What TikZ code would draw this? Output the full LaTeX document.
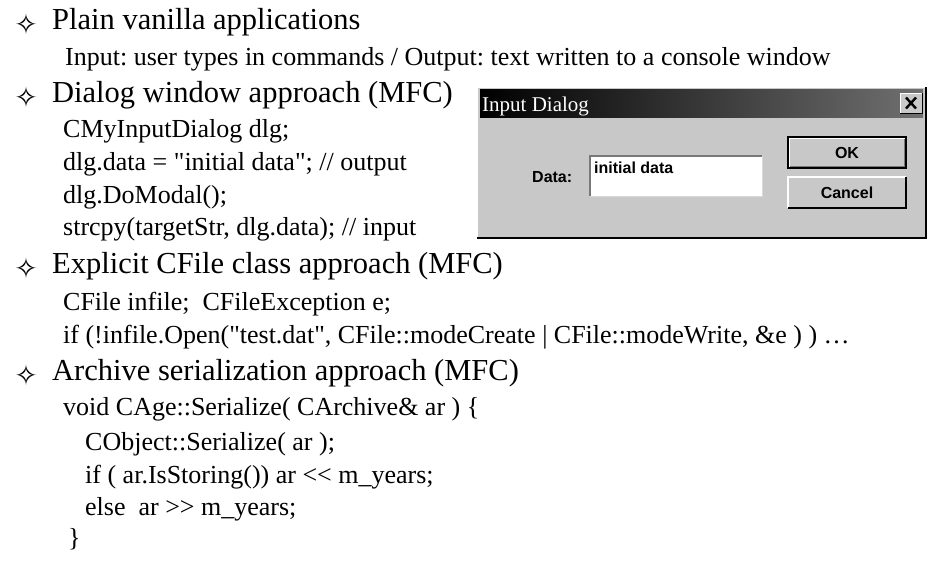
\documentclass[tikz,border=0pt]{standalone}
\usepackage{fontspec}
\setmainfont{Liberation Serif}
\newfontfamily\codefont{Liberation Serif}
\newfontfamily\guifont{Liberation Sans}
\newfontfamily\symfont{DejaVu Sans}
\frenchspacing

\definecolor{winface}{RGB}{200,200,200}
\definecolor{winshadow}{RGB}{120,120,120}
\definecolor{titleend}{RGB}{112,112,112}

\tikzset{
	heading/.style={anchor=base west, inner sep=0pt, font=\fontsize{30.5}{36}\selectfont},
	codeline/.style={anchor=base west, inner sep=0pt, font=\codefont\fontsize{26}{30}\selectfont},
	starmark/.style={inner sep=0pt, font=\symfont\fontsize{28}{28}\selectfont},
	winpart/.style={anchor=north west, inner sep=0pt, outer sep=0pt},
	guitext/.style={inner sep=0pt, font=\guifont\bfseries\fontsize{16}{16}\selectfont}
}

\begin{document}
\begin{tikzpicture}[x=1pt,y=-1pt]
	\useasboundingbox (0,0) rectangle (940,574);

	% plain vanilla
	\node[starmark] (mark1) at (26,24) {✧};
	\node[heading] (plain) at (52,29) {Plain vanilla applications};
	\node[codeline] (plaininfo) at (65,65) {Input: user types in commands / Output: text written to a console window};

	% dialog approach
	\node[starmark] (mark2) at (26,97) {✧};
	\node[heading] (dialog) at (52,102) {Dialog window approach (MFC)};
	\node[codeline] (dlgdecl) at (63,137) {CMyInputDialog dlg;};
	\node[codeline] (dlgdata) at (63,170) {dlg.data = "initial data"; // output};
	\node[codeline] (dlgmodal) at (63,203) {dlg.DoModal();};
	\node[codeline] (dlgcopy) at (63,235) {strcpy(targetStr, dlg.data); // input};

	% the dialog window itself
	\node[winpart, fill=winface, minimum width=449pt, minimum height=151pt] (dlgwin) at (477,87) {};
	\draw[white, line width=1.5pt] (dlgwin.south west) -- (dlgwin.north west) -- (dlgwin.north east);
	\draw[black, line width=1.5pt] (dlgwin.north east) -- (dlgwin.south east) -- (dlgwin.south west);
	\node[winpart, left color=black, right color=titleend, minimum width=443pt, minimum height=28pt] (titlebar) at (480,89) {};
	\node[anchor=base west, inner sep=0pt, text=white, font=\fontsize{21}{21}\selectfont] (titletext) at (482,111) {Input Dialog};
	\node[winpart, fill=winface, minimum width=22pt, minimum height=20pt] (closebtn) at (900,93) {};
	\draw[white, line width=1pt] (closebtn.south west) -- (closebtn.north west) -- (closebtn.north east);
	\draw[black, line width=1pt] (closebtn.north east) -- (closebtn.south east) -- (closebtn.south west);
	\draw[line width=2.4pt] ([shift={(6pt,-4.5pt)}]closebtn.north west) -- ([shift={(-6pt,4.5pt)}]closebtn.south east);
	\draw[line width=2.4pt] ([shift={(6pt,4.5pt)}]closebtn.south west) -- ([shift={(-6pt,-4.5pt)}]closebtn.north east);

	\node[guitext, anchor=base west] (datalbl) at (532,182) {Data:};
	\node[winpart, fill=white, minimum width=172pt, minimum height=40pt] (datafield) at (590,156) {};
	\draw[winshadow, line width=2pt] (datafield.south west) -- (datafield.north west) -- (datafield.north east);
	\draw[white!85!black, line width=1pt] (datafield.north east) -- (datafield.south east) -- (datafield.south west);
	\node[guitext, anchor=base west] (datatext) at (594,173) {initial data};

	\node[winpart, fill=winface, draw=black, line width=1.2pt, minimum width=118pt, minimum height=31pt] (okbtn) at (788,137) {};
	\draw[white, line width=1pt] ([shift={(1.5pt,1.5pt)}]okbtn.south west) -- ([shift={(1.5pt,-1.5pt)}]okbtn.north west) -- ([shift={(-1.5pt,-1.5pt)}]okbtn.north east);
	\draw[winshadow, line width=1pt] ([shift={(-1.5pt,-1.5pt)}]okbtn.north east) -- ([shift={(-1.5pt,1.5pt)}]okbtn.south east) -- ([shift={(1.5pt,1.5pt)}]okbtn.south west);
	\node[guitext] (oklbl) at (okbtn.center) {OK};

	\node[winpart, fill=winface, minimum width=118pt, minimum height=31pt] (cancelbtn) at (788,177) {};
	\draw[white, line width=1.2pt] (cancelbtn.south west) -- (cancelbtn.north west) -- (cancelbtn.north east);
	\draw[black, line width=1.2pt] (cancelbtn.north east) -- (cancelbtn.south east) -- (cancelbtn.south west);
	\node[guitext] (cancellbl) at (cancelbtn.center) {Cancel};

	% CFile approach
	\node[starmark] (mark3) at (26,268) {✧};
	\node[heading] (cfile) at (52,273) {Explicit CFile class approach (MFC)};
	\node[codeline] (cfiledecl) at (63,310) {CFile infile;\ \ CFileException e;};
	\node[codeline] (cfileopen) at (63,343) {if (!infile.Open("test.dat", CFile::modeCreate | CFile::modeWrite, \&e ) ) …};

	% archive approach
	\node[starmark] (mark4) at (26,375) {✧};
	\node[heading] (archive) at (52,380) {Archive serialization approach (MFC)};
	\node[codeline] (arvoid) at (63,415) {void CAge::Serialize( CArchive\& ar ) \{};
	\node[codeline] (arbase) at (85,450) {CObject::Serialize( ar );};
	\node[codeline] (arstore) at (85,483) {if ( ar.IsStoring()) ar << m\_years;};
	\node[codeline] (arload) at (85,515) {else\ \ ar >> m\_years;};
	\node[codeline] (arend) at (68,546) {\}};
\end{tikzpicture}
\end{document}
